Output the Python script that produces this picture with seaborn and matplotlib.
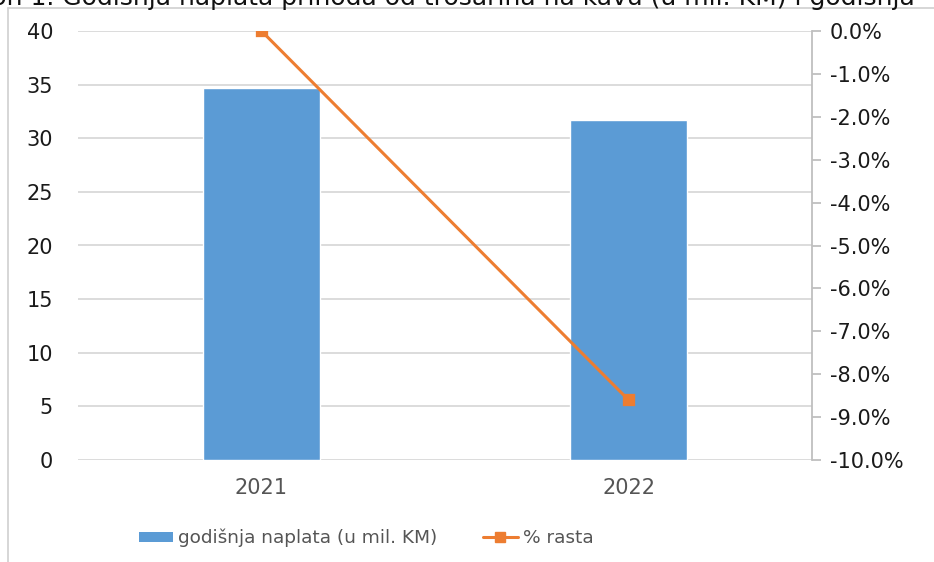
import matplotlib
matplotlib.use("Agg")
import matplotlib.pyplot as plt
from matplotlib.lines import Line2D
from matplotlib.patches import Patch
from matplotlib.ticker import FuncFormatter, MultipleLocator
import seaborn as sns
import pandas as pd

# Data
years = ["2021", "2022"]
naplata = [34.7, 31.7]          # godišnja naplata (u mil. KM)
rast = [0.0, -8.6]              # % rasta
title = "Grafikon 1. Godišnja naplata prihoda od trošarina na kavu (u mil. KM) i godišnja"

BLUE = "#5B9BD5"
ORANGE = "#ED7D31"
GRID = "#D9D9D9"

sns.set_theme(style="white")
plt.rcParams["font.family"] = ["DejaVu Sans"]

df = pd.DataFrame({"godina": years, "naplata": naplata, "rast": rast})

W, H = 934, 562
fig = plt.figure(figsize=(W / 100, H / 100), dpi=100)
ax = fig.add_axes([78 / W, 1 - 460 / H, (812 - 78) / W, (460 - 31) / H])

sns.barplot(data=df, x="godina", y="naplata", color=BLUE, width=0.318,
            saturation=1, ax=ax, zorder=2)
ax.set_ylim(0, 40)
ax.yaxis.set_major_locator(MultipleLocator(5))
ax.set_xlim(-0.5, 1.5)
ax.grid(axis="y", color=GRID, linewidth=1.3, zorder=0)
ax.set_axisbelow(True)
for s in ax.spines.values():
    s.set_visible(False)
ax.set_xlabel("")
ax.set_ylabel("")
ax.tick_params(axis="y", length=0, pad=18, labelsize=15, labelcolor="#1a1a1a")
ax.tick_params(axis="x", length=0, pad=13, labelsize=15, labelcolor="#555555")

ax2 = ax.twinx()
sns.pointplot(data=df, x="godina", y="rast", color=ORANGE, marker="s",
              markersize=7, linewidth=2.2, ax=ax2)
ax2.set_xlim(-0.5, 1.5)
ax2.set_ylim(-10, 0)
ax2.yaxis.set_major_locator(MultipleLocator(1))
ax2.yaxis.set_major_formatter(FuncFormatter(lambda v, p: f"{v:.1f}%"))
for name, s in ax2.spines.items():
    s.set_visible(name == "right")
ax2.spines["right"].set_color("#BFBFBF")
ax2.spines["right"].set_linewidth(1.3)
ax2.tick_params(axis="y", right=True, direction="out", length=6.5, width=1.3,
                color="#BFBFBF", pad=6.5, labelsize=15, labelcolor="#1a1a1a")
ax2.set_ylabel("")
ax2.set_xlabel("")

# legend under the plot
handles = [
    Patch(facecolor=BLUE, edgecolor="none"),
    Line2D([0], [0], color=ORANGE, linewidth=2.2, marker="s", markersize=7),
]
labels = ["godišnja naplata (u mil. KM)", "% rasta"]
fig.legend(handles, labels, loc="center", bbox_to_anchor=(366 / W, 1 - 538 / H),
           ncol=2, frameon=False, fontsize=13.3, labelcolor="#555555",
           handlelength=1.85, handleheight=0.45, handletextpad=0.27,
           columnspacing=2.5)

# chart frame edges and the heading running off the top edge
fig.add_artist(Line2D([8 / W, 8 / W], [0, 1 - 8 / H], color="#D0D0D0",
                      linewidth=1.2, transform=fig.transFigure))
fig.add_artist(Line2D([8 / W, 1], [1 - 8 / H, 1 - 8 / H], color="#D0D0D0",
                      linewidth=1.2, transform=fig.transFigure))
fig.text(915 / W, 1 - 5 / H, title, fontsize=18, color="#111111",
         ha="right", va="baseline")

fig.savefig("out.png", dpi=100, facecolor="white")
